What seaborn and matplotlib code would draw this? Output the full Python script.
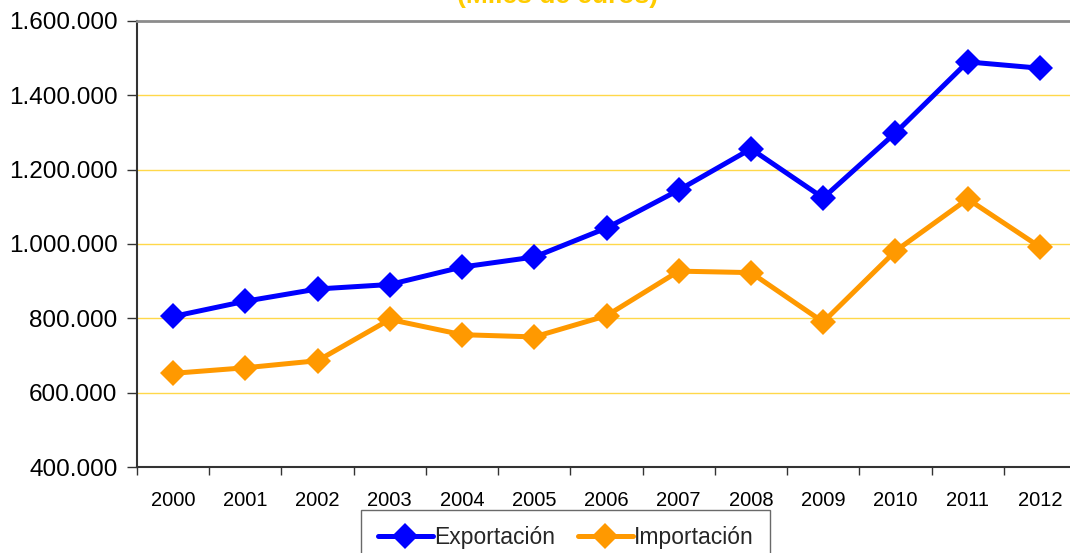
import numpy as np
import pandas as pd
import matplotlib
matplotlib.use("Agg")
import matplotlib.pyplot as plt
import seaborn as sns
from matplotlib.ticker import FuncFormatter, FixedLocator

years = ["2000", "2001", "2002", "2003", "2004", "2005", "2006",
         "2007", "2008", "2009", "2010", "2011", "2012"]
exportacion = [805000, 846000, 879000, 891000, 938000, 965000, 1043000,
               1145000, 1256000, 1124000, 1299000, 1490000, 1473000]
importacion = [652000, 667000, 686000, 797000, 756000, 750000, 807000,
               927000, 923000, 790000, 981000, 1121000, 992000]

df = pd.DataFrame({
    "pos": list(range(len(years))) * 2,
    "valor": exportacion + importacion,
    "serie": ["Exportación"] * len(years) + ["Importación"] * len(years),
})

sns.set_theme(style="white")
plt.rcParams['font.family'] = ['Liberation Sans', 'DejaVu Sans']

fig = plt.figure(figsize=(10.7, 5.53), dpi=100)
# the right edge of the plot area runs a little past the picture
ax = fig.add_axes([137 / 1070, 86 / 553, 939 / 1070, 446 / 553])

colores = {"Exportación": "#0000FF", "Importación": "#FF9900"}
for serie, color in colores.items():
    sub = df[df["serie"] == serie]
    sns.lineplot(data=sub, x="pos", y="valor", ax=ax, color=color,
                 linewidth=3.6, marker="D", markersize=13,
                 markeredgecolor=color, markeredgewidth=0, label=serie,
                 zorder=3)

ax.set_xlim(-0.5, len(years) - 0.5)
ax.set_ylim(400000, 1600000)
ax.set_yticks(np.arange(400000, 1600001, 200000))
ax.yaxis.set_major_formatter(FuncFormatter(lambda v, p: f"{int(v):,}".replace(",", ".")))
ax.set_xticks(range(len(years)))
ax.set_xticklabels(years)
ax.xaxis.set_minor_locator(FixedLocator(np.arange(-0.5, len(years), 1)))
ax.tick_params(axis="x", which="major", length=0, labelsize=14.5, pad=17, colors="black")
ax.tick_params(axis="x", which="minor", length=6, width=1, color="#333333", bottom=True)
ax.tick_params(axis="y", length=7, width=1, color="#333333", labelsize=17.5, pad=7,
               left=True, colors="black")
ax.tick_params(axis="y", color="#333333")
ax.set_xlabel("")
ax.set_ylabel("")

ax.grid(False)
for y in np.arange(600000, 1600000, 200000):
    ax.axhline(y, color="#FFD84A", linewidth=1, zorder=1)

ax.spines["right"].set_visible(False)
ax.spines["top"].set_color("#8C8C8C")
ax.spines["top"].set_linewidth(2)
ax.spines["left"].set_color("#333333")
ax.spines["left"].set_linewidth(1.5)
ax.spines["bottom"].set_color("#333333")
ax.spines["bottom"].set_linewidth(1.5)

ax.get_legend().remove()
handles, labels = ax.get_legend_handles_labels()
leg = fig.legend(handles, labels, loc="upper center", bbox_to_anchor=(0.5285, 43 / 553),
                 ncol=2, fontsize=16.5, frameon=True, fancybox=False,
                 handlelength=2.4, handletextpad=0.05, columnspacing=1.0,
                 borderpad=0.7, borderaxespad=0)
leg.get_frame().set_edgecolor("#444444")
leg.get_frame().set_linewidth(1)

fig.text(0.5215, 1 - 2.5 / 553, "(Miles de euros)", ha="center", va="baseline",
         fontsize=19, fontweight="bold", color="#FFCC00")

fig.savefig("out.png", dpi=100)
